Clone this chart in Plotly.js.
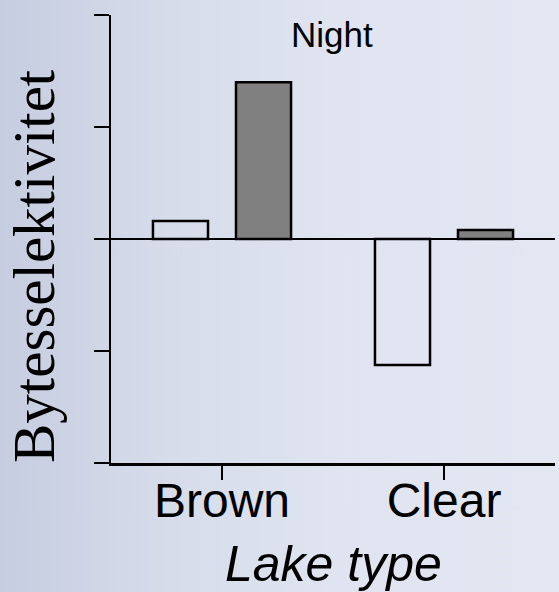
<!DOCTYPE html>
<html>
<head>
<meta charset="utf-8">
<script src="https://cdn.plot.ly/plotly-3.0.1.min.js"></script>
<style>
  html, body { margin: 0; padding: 0; }
  body {
    width: 559px; height: 592px; overflow: hidden;
    background: linear-gradient(to right, #c6cde0 0%, #d6dcea 30%, #dfe4f0 60%, #e3e7f2 100%);
  }
  #chart { width: 559px; height: 592px; }
</style>
</head>
<body>
<div id="chart"></div>
<script>
const categories = ['Brown', 'Clear'];
const openSeries = [0.16, -1.125];
const greySeries = [1.40, 0.08];
const yTicks = [-2, -1, 0, 1, 2];
const titleText = 'Night';
const yTitleText = 'Bytesselektivitet';
const xTitleText = 'Lake type';

const traces = [
  {
    type: 'bar', x: categories, y: openSeries, name: 'open',
    marker: { color: 'rgba(0,0,0,0)', line: { color: '#000', width: 2.5 } },
    hoverinfo: 'skip'
  },
  {
    type: 'bar', x: categories, y: greySeries, name: 'grey',
    marker: { color: '#808080', line: { color: '#000', width: 2.5 } },
    hoverinfo: 'skip'
  }
];

const L = 111, R = 555, T = 15, B = 463;
const px2x = p => (p - L) / (R - L);
const px2y = p => (B - p) / (B - T);

const layout = {
  width: 559, height: 592,
  paper_bgcolor: 'rgba(0,0,0,0)',
  plot_bgcolor: 'rgba(0,0,0,0)',
  margin: { l: L, r: 559 - R, t: T, b: 592 - B, pad: 0 },
  showlegend: false,
  barmode: 'group',
  bargap: 0.252,
  bargroupgap: 0.337,
  xaxis: {
    type: 'category',
    range: [-0.5, 1.5],
    showline: true, linecolor: '#000', linewidth: 2.5,
    ticks: 'outside', ticklen: 14, tickwidth: 2.5, tickcolor: '#000',
    ticklabelstandoff: -20,
    showgrid: false, zeroline: false,
    tickfont: { family: 'Liberation Sans, Arial, sans-serif', size: 48, color: '#000' },
    fixedrange: true
  },
  yaxis: {
    range: [-2, 2],
    tickmode: 'array', tickvals: yTicks,
    showticklabels: false,
    showline: true, linecolor: '#000', linewidth: 2.5,
    ticks: 'outside', ticklen: 15, tickwidth: 2.5, tickcolor: '#000',
    showgrid: false,
    zeroline: true, zerolinecolor: '#000', zerolinewidth: 2.5,
    fixedrange: true
  },
  annotations: [
    {
      text: titleText, xref: 'paper', yref: 'paper',
      x: px2x(332), y: px2y(35), xanchor: 'center', yanchor: 'middle',
      showarrow: false,
      font: { family: 'Liberation Sans, Arial, sans-serif', size: 35, color: '#000' }
    },
    {
      text: yTitleText, xref: 'paper', yref: 'paper',
      x: px2x(34), y: px2y(266), xanchor: 'center', yanchor: 'middle',
      textangle: -90, showarrow: false,
      font: { family: 'Liberation Serif, Times New Roman, serif', size: 59, color: '#000' }
    },
    {
      text: '<i>' + xTitleText + '</i>', xref: 'paper', yref: 'paper',
      x: px2x(333), y: px2y(564), xanchor: 'center', yanchor: 'middle',
      showarrow: false,
      font: { family: 'Liberation Sans, Arial, sans-serif', size: 50, color: '#000' }
    }
  ]
};

Plotly.newPlot('chart', traces, layout, { displayModeBar: false, staticPlot: true });
</script>
</body>
</html>
